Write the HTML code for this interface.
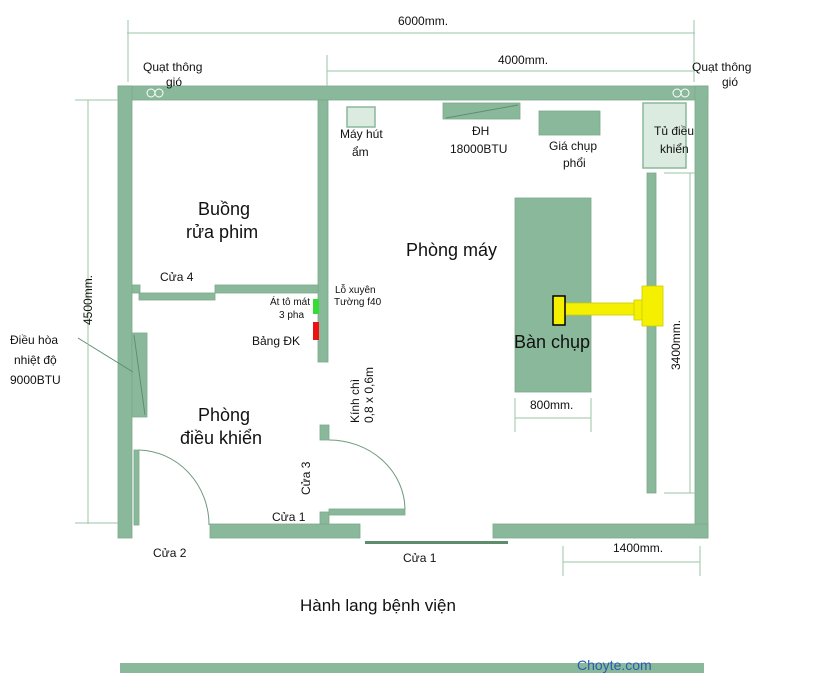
<!DOCTYPE html>
<html><head><meta charset="utf-8"><style>
html,body{margin:0;padding:0;background:#fff}
svg{display:block}
text{font-family:"Liberation Sans",sans-serif;fill:#111}
</style></head><body>
<svg width="819" height="679" viewBox="0 0 819 679" xmlns="http://www.w3.org/2000/svg">
<g fill="#8ab89b" stroke="#7aa98b" stroke-width="0.8">
<rect x="118" y="86" width="590" height="14"/>
<rect x="118" y="86" width="14" height="452"/>
<rect x="695" y="86" width="13" height="452"/>
<rect x="210" y="524" width="150" height="14"/>
<rect x="493" y="524" width="215" height="14"/>
<rect x="318" y="100" width="10" height="262"/>
<rect x="132" y="285" width="8" height="8"/>
<rect x="139" y="293" width="76" height="7"/>
<rect x="215" y="285" width="103" height="8"/>
<rect x="320" y="425" width="9" height="15"/>
<rect x="320" y="512" width="9" height="12"/>
<rect x="329" y="509" width="76" height="6"/>
<rect x="134" y="450" width="5" height="75"/>
<rect x="647" y="173" width="9" height="320"/>
<rect x="515" y="198" width="76" height="194"/>
<rect x="443" y="103" width="77" height="16"/>
<rect x="539" y="111" width="61" height="24"/>
<rect x="132" y="333" width="15" height="84"/>
</g>
<rect x="347" y="107" width="28" height="20" fill="#dcebdf" stroke="#8ab89b" stroke-width="1.5"/>
<rect x="643" y="103" width="43" height="65" fill="#dcebdf" stroke="#8ab89b" stroke-width="1.5"/>
<line x1="446" y1="118" x2="518" y2="105" stroke="#5f8f70" stroke-width="1"/>
<line x1="134" y1="335" x2="145" y2="415" stroke="#5f8f70" stroke-width="1"/>
<line x1="78" y1="338" x2="133" y2="372" stroke="#5f8f70" stroke-width="1"/>
<g stroke="#fff" stroke-width="1" fill="none">
<circle cx="151" cy="93" r="4"/><circle cx="159" cy="93" r="4"/>
<circle cx="677" cy="93" r="4"/><circle cx="685" cy="93" r="4"/>
</g>
<path d="M139 450 A72 75 0 0 1 209 525" fill="none" stroke="#6e9a7d" stroke-width="1"/>
<path d="M329 440 A76 70 0 0 1 405 509" fill="none" stroke="#6e9a7d" stroke-width="1"/>
<rect x="365" y="541" width="143" height="3" fill="#5e8d6e"/>
<rect x="120" y="663" width="584" height="10" fill="#8ab89b"/>
<rect x="313" y="299" width="6" height="15" fill="#33dd33"/>
<rect x="313" y="322" width="6" height="18" fill="#ee1111"/>
<g fill="#f4f000" stroke-width="0.8">
<rect x="565" y="303" width="70" height="12" stroke="#cccc00"/>
<rect x="634" y="300" width="9" height="20" stroke="#cccc00"/>
<rect x="642" y="286" width="21" height="40" stroke="#cccc00"/>
<rect x="553" y="296" width="12" height="29" stroke="#000" stroke-width="1.5"/>
</g>
<g stroke="#9cc4a8" stroke-width="1" fill="none">
<line x1="127" y1="33" x2="695" y2="33"/>
<line x1="128" y1="20" x2="128" y2="82"/>
<line x1="694" y1="20" x2="694" y2="82"/>
<line x1="327" y1="71" x2="695" y2="71"/>
<line x1="327" y1="55" x2="327" y2="86"/>
<line x1="88" y1="100" x2="88" y2="524"/>
<line x1="75" y1="100" x2="118" y2="100"/>
<line x1="75" y1="523" x2="118" y2="523"/>
<line x1="690" y1="173" x2="690" y2="493"/>
<line x1="664" y1="173" x2="695" y2="173"/>
<line x1="664" y1="493" x2="695" y2="493"/>
<line x1="515" y1="418" x2="591" y2="418"/>
<line x1="515" y1="398" x2="515" y2="432"/>
<line x1="591" y1="398" x2="591" y2="432"/>
<line x1="563" y1="562" x2="700" y2="562"/>
<line x1="563" y1="546" x2="563" y2="576"/>
<line x1="700" y1="546" x2="700" y2="576"/>
</g>
<g font-size="12">
<text x="398" y="25">6000mm.</text>
<text x="498" y="64">4000mm.</text>
<text x="143" y="71">Quạt thông</text><text x="166" y="86">gió</text>
<text x="692" y="71">Quạt thông</text><text x="722" y="86">gió</text>
<text x="340" y="138">Máy hút</text><text x="352" y="156">ẩm</text>
<text x="472" y="135">ĐH</text><text x="450" y="153">18000BTU</text>
<text x="549" y="150">Giá chụp</text><text x="563" y="167">phổi</text>
<text x="654" y="135">Tủ điều</text><text x="660" y="153">khiển</text>
<text x="160" y="281">Cửa 4</text>
<text x="252" y="345">Bảng ĐK</text>
<text x="10" y="344">Điều hòa</text><text x="14" y="364">nhiệt độ</text><text x="10" y="384">9000BTU</text>
<text x="272" y="521">Cửa 1</text>
<text x="153" y="557">Cửa 2</text>
<text x="403" y="562">Cửa 1</text>
<text x="530" y="409">800mm.</text>
<text x="613" y="552">1400mm.</text>
</g>
<g font-size="10">
<text x="335" y="293">Lỗ xuyên</text><text x="334" y="305">Tường f40</text>
<text x="270" y="305">Át tô mát</text><text x="279" y="318">3 pha</text>
</g>
<g font-size="18">
<text x="198" y="215">Buồng</text><text x="186" y="238">rửa phim</text>
<text x="406" y="256">Phòng máy</text>
<text x="514" y="348">Bàn chụp</text>
<text x="198" y="421">Phòng</text><text x="180" y="444">điều khiển</text>
<text x="300" y="611" font-size="17">Hành lang bệnh viện</text>
</g>
<text transform="translate(359,423) rotate(-90)" font-size="12">Kính chì</text>
<text transform="translate(373,423) rotate(-90)" font-size="12">0,8 x 0,6m</text>
<text transform="translate(310,495) rotate(-90)" font-size="12">Cửa 3</text>
<text transform="translate(92,325) rotate(-90)" font-size="12">4500mm.</text>
<text transform="translate(680,370) rotate(-90)" font-size="12">3400mm.</text>
<text x="577" y="670" font-size="14" style="fill:#2a5db0">Choyte.com</text>
</svg>
</body></html>
